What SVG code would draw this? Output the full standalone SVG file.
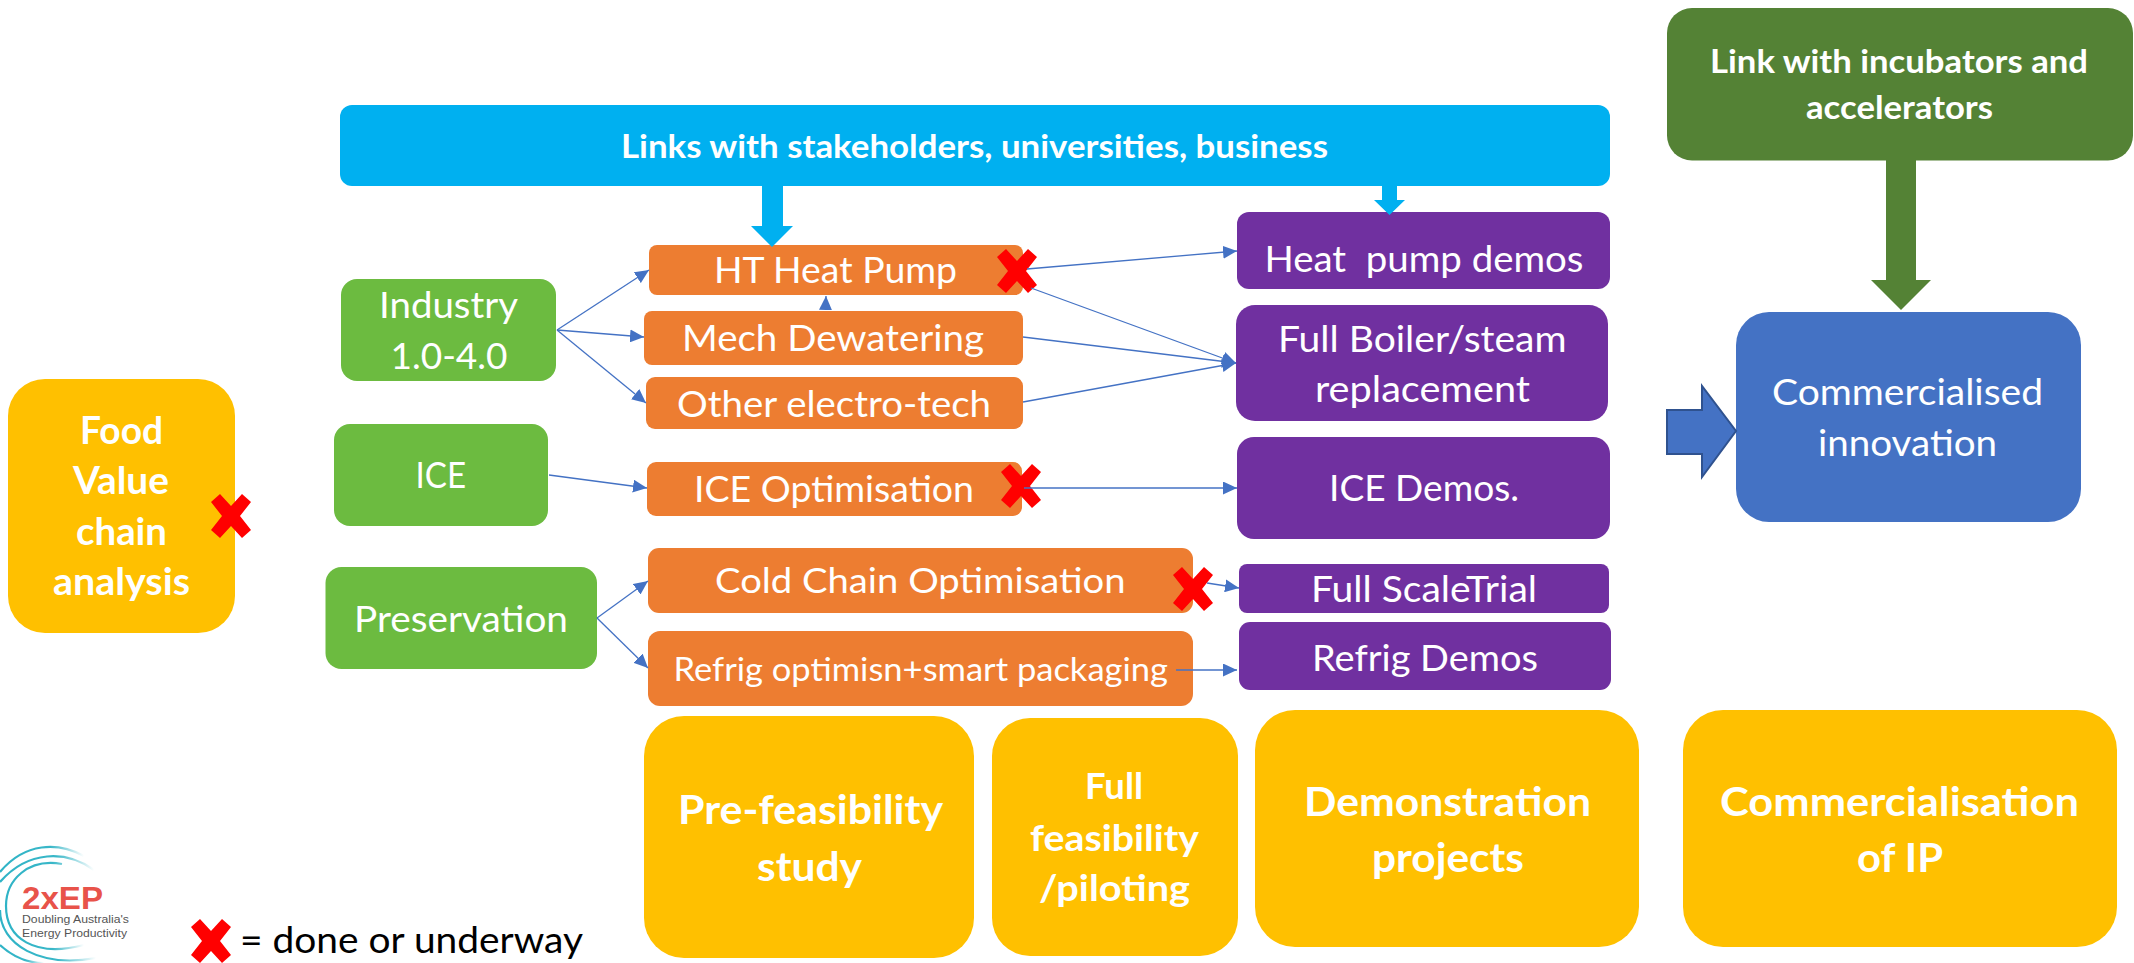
<svg xmlns="http://www.w3.org/2000/svg" width="2134" height="963" viewBox="0 0 2134 963">
<style>
text{font-family:Lato,"Liberation Sans",sans-serif;fill:#fff}
.b{font-weight:700}
.yellow{fill:#FFC000}.orange{fill:#ED7D31}.green{fill:#6CBB40}.purple{fill:#7030A0}
.link{stroke:#4472C4;stroke-width:1.3;fill:none;marker-end:url(#tip)}
.x{fill:#F00}
.arc{fill:none;stroke-width:2.2}
.logo{font-family:"Liberation Sans",Arial,sans-serif;fill:#555}
</style>
<defs>
<marker id="tip" markerUnits="userSpaceOnUse" markerWidth="14" markerHeight="13" refX="14" refY="6.5" orient="auto"><path d="M0 0L14 6.5L0 13Z" fill="#4472C4"/></marker>
<polygon id="cross" points="9,0 20,12 31,0 40,8 29,22 40,36 31,44 20,32 9,44 0,36 11,22 0,8"/>
<linearGradient id="fade" x1="0" y1="0" x2="1" y2="0"><stop offset="0" stop-color="#2FB3C6"/><stop offset=".6" stop-color="#39B7C8"/><stop offset="1" stop-color="#39B7C8" stop-opacity="0"/></linearGradient>
</defs>
<g id="node-food"><rect class="yellow" x="8" y="379" width="227" height="254" rx="37"/>
<text class="b" x="80" y="444" font-size="38" textLength="83" lengthAdjust="spacingAndGlyphs">Food</text>
<text class="b" x="73" y="494" font-size="38" textLength="96" lengthAdjust="spacingAndGlyphs">Value</text>
<text class="b" x="76" y="545" font-size="38" textLength="91" lengthAdjust="spacingAndGlyphs">chain</text>
<text class="b" x="53" y="595" font-size="38" textLength="137" lengthAdjust="spacingAndGlyphs">analysis</text></g>
<g id="node-stakeholders"><rect fill="#00B0F0" x="340" y="105" width="1270" height="81" rx="12"/>
<text class="b" x="621" y="158" font-size="32" textLength="707" lengthAdjust="spacingAndGlyphs">Links with stakeholders, universities, business</text></g>
<g id="node-incubators"><rect fill="#548235" x="1667" y="8" width="466" height="152.500" rx="25"/>
<text class="b" x="1710" y="73" font-size="32" textLength="378" lengthAdjust="spacingAndGlyphs">Link with incubators and</text>
<text class="b" x="1806" y="119" font-size="32" textLength="187" lengthAdjust="spacingAndGlyphs">accelerators</text></g>
<g id="node-industry"><rect class="green" x="341" y="279" width="215" height="102" rx="16"/>
<text x="379" y="318" font-size="36" textLength="139" lengthAdjust="spacingAndGlyphs">Industry</text>
<text x="390.500" y="369" font-size="36" textLength="117" lengthAdjust="spacingAndGlyphs">1.0-4.0</text></g>
<g id="node-ice"><rect class="green" x="334" y="424" width="214" height="102" rx="16"/>
<text x="415.500" y="488" font-size="36" textLength="50.500" lengthAdjust="spacingAndGlyphs">ICE</text></g>
<g id="node-preservation"><rect class="green" x="325.500" y="567" width="271.500" height="102" rx="16"/>
<text x="354" y="632" font-size="36" textLength="214" lengthAdjust="spacingAndGlyphs">Preservation</text></g>
<g id="node-ht-heat-pump"><rect class="orange" x="649" y="245" width="374" height="50" rx="8"/>
<text x="714" y="283" font-size="36" textLength="243" lengthAdjust="spacingAndGlyphs">HT Heat Pump</text></g>
<g id="node-mech-dewatering"><rect class="orange" x="644" y="311" width="379" height="54" rx="8"/>
<text x="682" y="351" font-size="36" textLength="302" lengthAdjust="spacingAndGlyphs">Mech Dewatering</text></g>
<g id="node-other-electro"><rect class="orange" x="646" y="377" width="377" height="52" rx="9"/>
<text x="677" y="417" font-size="36" textLength="314" lengthAdjust="spacingAndGlyphs">Other electro-tech</text></g>
<g id="node-ice-optimisation"><rect class="orange" x="647" y="462" width="375" height="54" rx="9"/>
<text x="694" y="502" font-size="36" textLength="280" lengthAdjust="spacingAndGlyphs">ICE Optimisation</text></g>
<g id="node-cold-chain"><rect class="orange" x="648" y="548" width="545" height="65" rx="11"/>
<text x="715" y="593" font-size="35" textLength="410.500" lengthAdjust="spacingAndGlyphs">Cold Chain Optimisation</text></g>
<g id="node-refrig-packaging"><rect class="orange" x="648" y="631" width="545" height="75" rx="12"/>
<text x="673.500" y="681" font-size="32" textLength="494.500" lengthAdjust="spacingAndGlyphs">Refrig optimisn+smart packaging</text></g>
<g id="node-heat-pump-demos"><rect class="purple" x="1237" y="212" width="373" height="77" rx="12"/>
<text x="1264.500" y="272" font-size="36" textLength="319" lengthAdjust="spacingAndGlyphs" xml:space="preserve">Heat  pump demos</text></g>
<g id="node-boiler"><rect class="purple" x="1236" y="305" width="372" height="116" rx="19"/>
<text x="1278" y="352" font-size="36" textLength="288.500" lengthAdjust="spacingAndGlyphs">Full Boiler/steam</text>
<text x="1315" y="402" font-size="36" textLength="215" lengthAdjust="spacingAndGlyphs">replacement</text></g>
<g id="node-ice-demos"><rect class="purple" x="1237" y="437" width="373" height="102" rx="17"/>
<text x="1329" y="501" font-size="36" textLength="190" lengthAdjust="spacingAndGlyphs">ICE Demos.</text></g>
<g id="node-full-scale"><rect class="purple" x="1239" y="564" width="370" height="49" rx="8"/>
<text x="1311" y="602" font-size="36" textLength="226" lengthAdjust="spacingAndGlyphs">Full ScaleTrial</text></g>
<g id="node-refrig-demos"><rect class="purple" x="1239" y="622" width="372" height="68" rx="11"/>
<text x="1312" y="671" font-size="36" textLength="226" lengthAdjust="spacingAndGlyphs">Refrig Demos</text></g>
<g id="node-commercialised"><rect fill="#4472C4" x="1736" y="312" width="345" height="210" rx="33"/>
<text x="1772" y="405" font-size="36" textLength="271" lengthAdjust="spacingAndGlyphs">Commercialised</text>
<text x="1818" y="456" font-size="36" textLength="179" lengthAdjust="spacingAndGlyphs">innovation</text></g>
<g id="node-pre-feasibility"><rect class="yellow" x="644" y="716" width="330" height="242" rx="40"/>
<text class="b" x="678" y="824" font-size="40" textLength="265" lengthAdjust="spacingAndGlyphs">Pre-feasibility</text>
<text class="b" x="757" y="881" font-size="40" textLength="105" lengthAdjust="spacingAndGlyphs">study</text></g>
<g id="node-full-feasibility"><rect class="yellow" x="992" y="718" width="246" height="238" rx="38"/>
<text class="b" x="1085" y="799" font-size="36" textLength="58" lengthAdjust="spacingAndGlyphs">Full</text>
<text class="b" x="1030" y="851" font-size="36" textLength="169" lengthAdjust="spacingAndGlyphs">feasibility</text>
<text class="b" x="1039" y="901" font-size="36" textLength="151" lengthAdjust="spacingAndGlyphs">/piloting</text></g>
<g id="node-demonstration"><rect class="yellow" x="1255" y="710" width="384" height="237" rx="40"/>
<text class="b" x="1304" y="816" font-size="40" textLength="287" lengthAdjust="spacingAndGlyphs">Demonstration</text>
<text class="b" x="1372" y="872" font-size="40" textLength="152" lengthAdjust="spacingAndGlyphs">projects</text></g>
<g id="node-commercialisation"><rect class="yellow" x="1683" y="710" width="434" height="237" rx="40"/>
<text class="b" x="1720" y="816" font-size="40" textLength="359" lengthAdjust="spacingAndGlyphs">Commercialisation</text>
<text class="b" x="1857" y="872" font-size="40" textLength="86" lengthAdjust="spacingAndGlyphs">of IP</text></g>
<g id="done-marks" class="x">
<use href="#cross" x="211" y="494"/>
<use href="#cross" x="997" y="249"/>
<use href="#cross" x="1001" y="464"/>
<use href="#cross" x="1173" y="567"/>
</g>
<g id="connectors">
<line class="link" x1="557" y1="330" x2="649" y2="270"/>
<line class="link" x1="557" y1="330" x2="644" y2="337"/>
<line class="link" x1="557" y1="330" x2="646" y2="403"/>
<line class="link" x1="549" y1="475" x2="647" y2="488"/>
<line class="link" x1="597" y1="618" x2="648" y2="581"/>
<line class="link" x1="597" y1="618" x2="648" y2="668"/>
<line class="link" x1="825.500" y1="310" x2="826" y2="296"/>
<line class="link" x1="1027" y1="269" x2="1237" y2="251"/>
<line class="link" x1="1031" y1="288" x2="1236" y2="363"/>
<line class="link" x1="1023" y1="337" x2="1236" y2="363"/>
<line class="link" x1="1023" y1="402" x2="1236" y2="363"/>
<line class="link" x1="1024" y1="488" x2="1237" y2="488"/>
<line class="link" x1="1207" y1="583" x2="1239" y2="588"/>
<line class="link" x1="1176" y1="670" x2="1237" y2="670"/>
<polygon fill="#00B0F0" points="762,186 783,186 783,226 793,226 772,247 751,226 762,226"/>
<polygon fill="#00B0F0" points="1382,186 1397,186 1397,200 1405,200 1389.500,215 1374,200 1382,200"/>
<polygon fill="#548235" points="1886,160 1916,160 1916,280 1931,280 1901,310 1871,280 1886,280"/>
<polygon fill="#4472C4" stroke="#2F528F" stroke-width="2" points="1667,410 1702,410 1702,386 1736,431 1702,477 1702,454 1667,454"/>
</g>
<g id="legend">
<use href="#cross" class="x" x="191" y="919"/>
<text x="240" y="953" font-size="36" textLength="343" lengthAdjust="spacingAndGlyphs" style="fill:#000">= done or underway</text>
</g>
<g id="logo">
<path class="arc" stroke="url(#fade)" d="M0 872C25 842 58 842 84 856"/>
<path class="arc" stroke="url(#fade)" d="M0 882C28 850 66 850 94 870"/>
<path class="arc" stroke="url(#fade)" d="M62 864C28 858 6 880 6 906C6 938 34 958 84 945"/>
<path class="arc" stroke="url(#fade)" d="M0 910C0 945 40 968 96 958"/>
<path class="arc" stroke="url(#fade)" d="M0 945C14 958 30 963 44 963"/>
<text class="logo" x="22" y="909" font-size="31" font-weight="700" textLength="81" lengthAdjust="spacingAndGlyphs" style="fill:#E8534A">2xEP</text>
<text class="logo" x="22" y="922.500" font-size="11" textLength="107" lengthAdjust="spacingAndGlyphs">Doubling Australia's</text>
<text class="logo" x="22" y="936.500" font-size="11" textLength="105" lengthAdjust="spacingAndGlyphs">Energy Productivity</text>
</g>
</svg>
